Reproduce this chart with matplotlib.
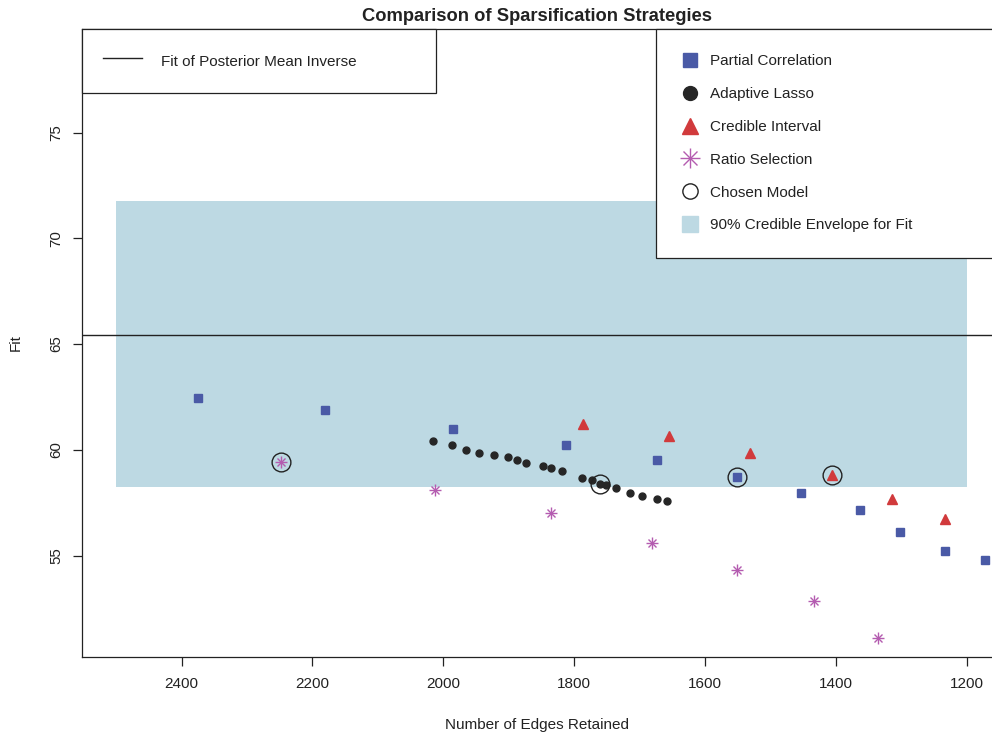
import matplotlib
matplotlib.use("Agg")
import matplotlib.pyplot as plt
from matplotlib.lines import Line2D
from matplotlib.legend_handler import HandlerTuple

# ---- data ----
pc_x = [2375, 2181, 1986, 1813, 1674, 1552, 1453, 1363, 1303, 1234, 1172]
pc_y = [62.46, 61.90, 61.00, 60.24, 59.53, 58.73, 57.97, 57.17, 56.13, 55.23, 54.80]

al_x = [2016, 1987, 1965, 1945, 1922, 1902, 1887, 1874, 1848, 1836, 1819,
        1788, 1773, 1761, 1752, 1737, 1715, 1696, 1674, 1659]
al_y = [60.40, 60.23, 59.99, 59.83, 59.75, 59.64, 59.50, 59.38, 59.21, 59.12, 58.98,
        58.67, 58.57, 58.38, 58.32, 58.19, 57.96, 57.81, 57.65, 57.56]

ci_x = [1787, 1656, 1532, 1407, 1315, 1234]
ci_y = [61.23, 60.67, 59.83, 58.79, 57.65, 56.74]

rs_x = [2248, 2013, 1835, 1682, 1551, 1434, 1336]
rs_y = [59.44, 58.11, 56.99, 55.61, 54.33, 52.86, 51.10]

chosen_x = [2248, 1761, 1552, 1407]
chosen_y = [59.44, 58.38, 58.73, 58.79]

fit_posterior_mean = 65.43
env_x = [2500, 1200]
env_lo = [58.25, 58.25]
env_hi = [71.78, 71.78]

x_ticks = [2400, 2200, 2000, 1800, 1600, 1400, 1200]
y_ticks = [55, 60, 65, 70, 75]

title = "Comparison of Sparsification Strategies"
xlabel = "Number of Edges Retained"
ylabel = "Fit"

# ---- style ----
plt.rcParams['font.family'] = ['Liberation Sans', 'DejaVu Sans']
c_pc = "#4A5AA6"
c_al = "#262626"
c_ci = "#D13A3C"
c_rs = "#B45CB0"
c_env = "#BDD9E3"
txt = "#222222"

fig = plt.figure(figsize=(9.92, 7.35), dpi=100)
ax = fig.add_axes([82/992, 78/735, 910/992, 628/735])

ax.fill_between(env_x, env_lo, env_hi, color=c_env, linewidth=0, zorder=1)
ax.axhline(fit_posterior_mean, color="#222222", lw=1.0, zorder=2)

ax.plot(pc_x, pc_y, ls="none", marker="s", ms=5.8, color=c_pc, mec=c_pc, zorder=3)
ax.plot(al_x, al_y, ls="none", marker="o", ms=5.0, color=c_al, mec=c_al, zorder=3)
ax.plot(ci_x, ci_y, ls="none", marker="^", ms=6.8, color=c_ci, mec=c_ci, zorder=3)
ax.plot(rs_x, rs_y, ls="none", marker="+", ms=8.5, mew=1.0, color=c_rs, zorder=3)
ax.plot(rs_x, rs_y, ls="none", marker="x", ms=6.0, mew=1.0, color=c_rs, zorder=3)
ax.plot(chosen_x, chosen_y, ls="none", marker="o", ms=13.5, mfc="none",
        mec="#222222", mew=1.0, zorder=4)

ax.set_xlim(2552, 1162)
ax.set_ylim(50.2, 79.9)
ax.set_xticks(x_ticks)
ax.set_yticks(y_ticks)
ax.tick_params(axis="both", direction="out", length=6.5, width=0.9, colors="#222222",
               labelsize=11, labelcolor=txt)
ax.tick_params(axis="x", pad=8)
ax.tick_params(axis="y", pad=7, labelsize=10.8)
for lab in ax.get_yticklabels():
    lab.set_rotation(90)
    lab.set_va("center")
for s in ["left", "bottom", "top"]:
    ax.spines[s].set_color("#222222")
    ax.spines[s].set_linewidth(0.9)
ax.spines["right"].set_visible(False)

ax.set_title(title, fontsize=13.2, fontweight="bold", color=txt, pad=6)
ax.set_xlabel(xlabel, fontsize=11, color=txt, labelpad=19)
ax.set_ylabel(ylabel, fontsize=11, color=txt, labelpad=19)

# ---- legends ----
h_line = Line2D([], [], color="#222222", lw=1.0)
leg1 = ax.legend([h_line], ["Fit of Posterior Mean Inverse"], loc="upper left",
                 bbox_to_anchor=(0, 0, 354/910, 1.0), mode="expand",
                 fontsize=11, frameon=True, fancybox=False, edgecolor="#222222",
                 framealpha=1, borderpad=1.35, handlelength=2.55, handleheight=1.9,
                 handletextpad=1.3, borderaxespad=0)
leg1.get_frame().set_linewidth(0.9)
for t in leg1.get_texts():
    t.set_color(txt)
ax.add_artist(leg1)

h_pc = Line2D([], [], ls="none", marker="s", ms=10.5, color=c_pc)
h_al = Line2D([], [], ls="none", marker="o", ms=10.0, color=c_al)
h_ci = Line2D([], [], ls="none", marker="^", ms=12, color=c_ci)
h_rs1 = Line2D([], [], ls="none", marker="+", ms=14, mew=1.0, color=c_rs)
h_rs2 = Line2D([], [], ls="none", marker="x", ms=10, mew=1.0, color=c_rs)
h_ch = Line2D([], [], ls="none", marker="o", ms=11, mfc="none", mec="#222222", mew=1.0)
h_env = Line2D([], [], ls="none", marker="s", ms=11, color=c_env)
leg2 = ax.legend([h_pc, h_al, h_ci, (h_rs1, h_rs2), h_ch, h_env],
                 ["Partial Correlation", "Adaptive Lasso", "Credible Interval",
                  "Ratio Selection", "Chosen Model", "90% Credible Envelope for Fit"],
                 handler_map={tuple: HandlerTuple(ndivide=1, pad=0)},
                 loc="upper left", bbox_to_anchor=(574/910, 0, 0.45, 1.0), mode="expand",
                 fontsize=11, frameon=True, fancybox=False, edgecolor="#222222",
                 framealpha=1, borderpad=1.66, handlelength=1.1, handletextpad=0.8,
                 labelspacing=1.23, borderaxespad=0)
leg2.get_frame().set_linewidth(0.9)
for t in leg2.get_texts():
    t.set_color(txt)

fig.savefig("out.png", dpi=100)
